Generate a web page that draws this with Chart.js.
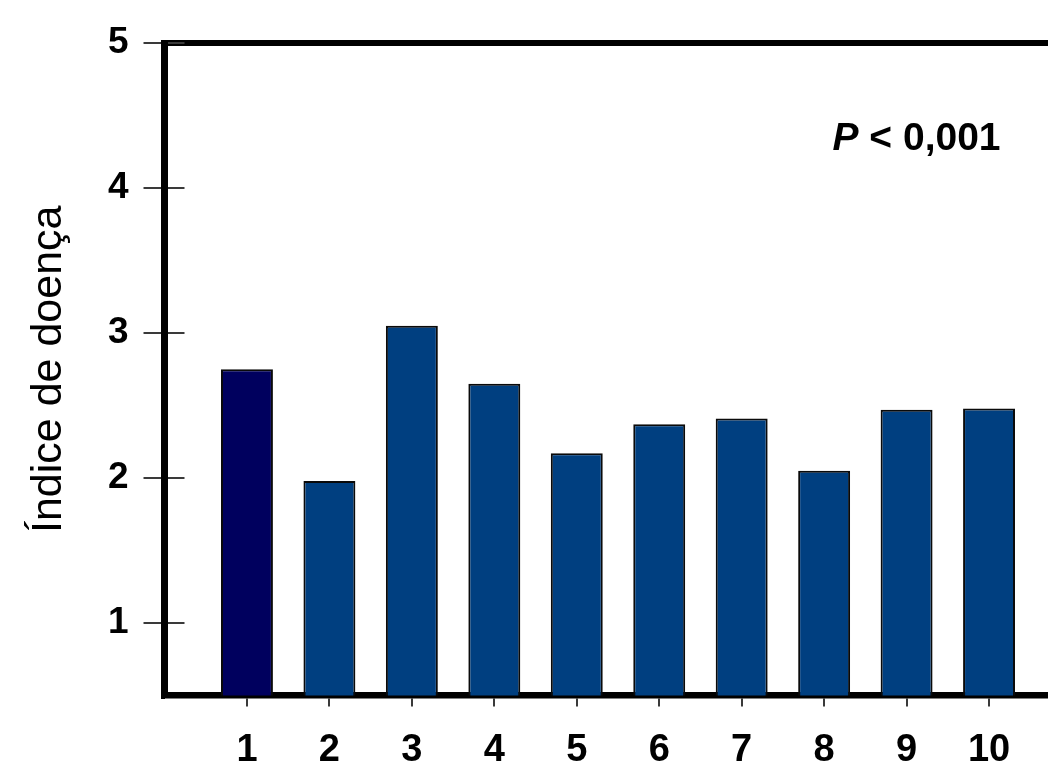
<!DOCTYPE html>
<html>
<head>
<meta charset="utf-8">
<script src="https://cdn.jsdelivr.net/npm/chart.js@4"></script>
<style>
  html, body { margin: 0; padding: 0; background: #fff; overflow: hidden; width: 1048px; height: 761px; }
  #wrap { position: absolute; left: 0; top: 0; width: 1100px; height: 800px; }
  canvas { display: block; }
</style>
</head>
<body>
<div id="wrap"><canvas id="chart" width="1100" height="800"></canvas></div>
<script>
// Categories (blank slots pad the axis one step on each side)
const categories = ['', '1', '2', '3', '4', '5', '6', '7', '8', '9', '10', ''];
// Disease index per treatment
const diseaseIndex = [null, 2.75, 1.98, 3.05, 2.65, 2.17, 2.37, 2.41, 2.05, 2.47, 2.48, null];
// Fill per bar: treatment 1 in navy, the rest in blue
const barColors = ['#00005e', '#00005e', '#003f80', '#003f80', '#003f80', '#003f80',
                   '#003f80', '#003f80', '#003f80', '#003f80', '#003f80', '#003f80'];
const yTicks = [1, 2, 3, 4, 5];
const yMin = 0.5;
const yMax = 5;
const yTitle = 'Índice de doença';
const pLabel = 'P';
const pText = ' < 0,001';

const FONT = '"Liberation Sans", Arial, sans-serif';

const framePlugin = {
  id: 'frame',
  afterDraw(chart) {
    const { ctx, chartArea: a, scales: { y } } = chart;
    ctx.save();
    // top frame line
    ctx.strokeStyle = '#000';
    ctx.lineWidth = 6;
    ctx.beginPath();
    ctx.moveTo(a.left - 3.5, a.top);
    ctx.lineTo(a.right, a.top);
    ctx.stroke();
    // close the bottom-left corner
    ctx.fillStyle = '#000';
    ctx.fillRect(a.left - 3.5, a.bottom - 3, 4, 6.5);
    // inner part of the y tick marks
    ctx.strokeStyle = '#3a3a3a';
    ctx.lineWidth = 2;
    yTicks.forEach(v => {
      const py = Math.round(y.getPixelForValue(v));
      ctx.beginPath();
      ctx.moveTo(a.left + 3.5, py);
      ctx.lineTo(a.left + 20, py);
      ctx.stroke();
    });
    // significance note
    const tx = a.left + 668;
    const ty = a.top + 107;
    ctx.fillStyle = '#000';
    ctx.textBaseline = 'alphabetic';
    ctx.textAlign = 'left';
    ctx.font = 'italic bold 39px ' + FONT;
    ctx.fillText(pLabel, tx, ty);
    const w = ctx.measureText(pLabel).width;
    ctx.font = 'bold 39px ' + FONT;
    ctx.fillText(pText, tx + w, ty);
    ctx.restore();
  }
};

new Chart(document.getElementById('chart'), {
  type: 'bar',
  data: {
    labels: categories,
    datasets: [{
      data: diseaseIndex,
      backgroundColor: barColors,
      borderColor: '#0a0a0a',
      borderWidth: 2,
      barPercentage: 0.63,
      categoryPercentage: 1
    }]
  },
  options: {
    responsive: false,
    animation: false,
    devicePixelRatio: 1,
    layout: { padding: { top: 43, right: 28.5, left: 0, bottom: 0 } },
    plugins: { legend: { display: false }, tooltip: { enabled: false } },
    events: [],
    scales: {
      x: {
        type: 'category',
        offset: false,
        afterFit(scale) { scale.height = 104.5; },
        grid: {
          offset: false,
          drawOnChartArea: false,
          drawTicks: true,
          tickLength: 11,
          lineWidth: 2,
          color: '#3a3a3a',
          tickColor: ctx => (categories[ctx.index] === '' ? 'rgba(0,0,0,0)' : '#3a3a3a')
        },
        border: { display: true, color: '#000', width: 6.5 },
        ticks: {
          autoSkip: false,
          maxRotation: 0,
          padding: 21,
          color: '#000',
          font: { family: FONT, size: 38, weight: 'bold' }
        }
      },
      y: {
        min: yMin,
        max: yMax,
        afterFit(scale) { scale.width = 164.5; },
        afterBuildTicks(scale) { scale.ticks = yTicks.map(v => ({ value: v })); },
        grid: {
          drawOnChartArea: false,
          drawTicks: true,
          tickLength: 21,
          lineWidth: 2,
          color: '#3a3a3a'
        },
        border: { display: true, color: '#000', width: 7 },
        ticks: {
          padding: 15,
          color: '#000',
          font: { family: FONT, size: 37, weight: 'bold' }
        },
        title: {
          display: true,
          text: yTitle,
          color: '#000',
          padding: { top: 23, bottom: 0 },
          font: { family: FONT, size: 43, weight: 'normal' }
        }
      }
    }
  },
  plugins: [framePlugin]
});
</script>
</body>
</html>
